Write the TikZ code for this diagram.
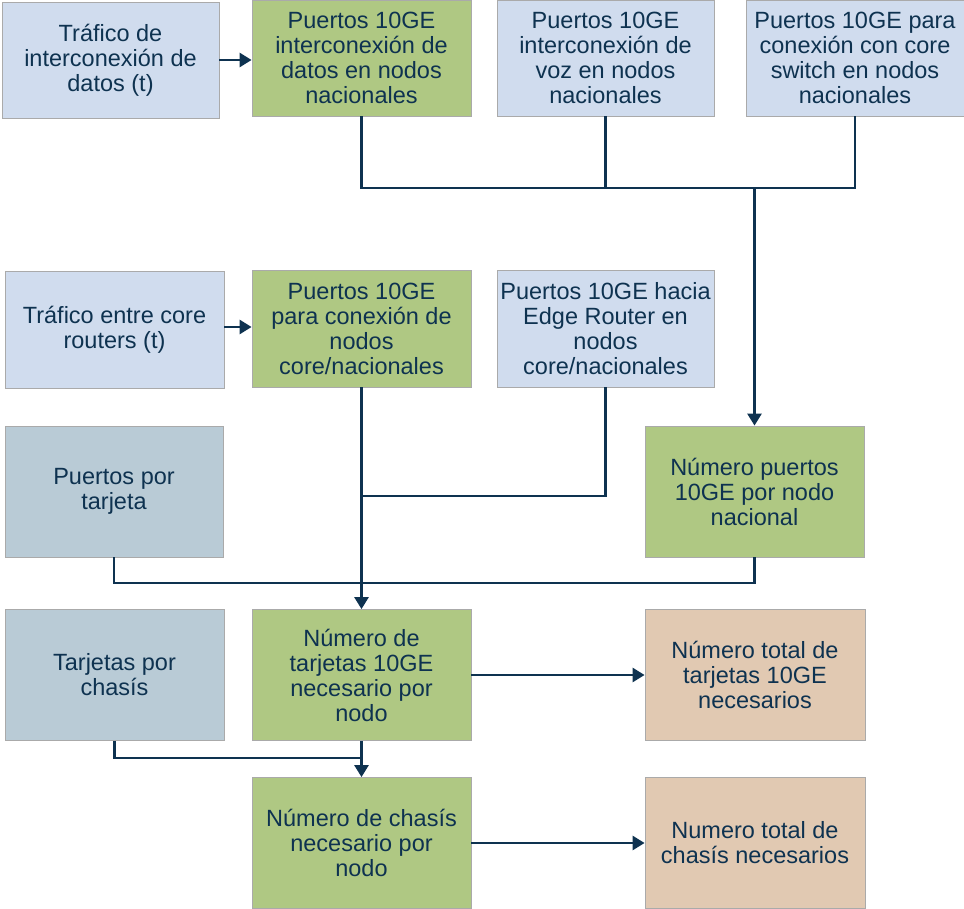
\documentclass[tikz,border=0pt]{standalone}
\usepackage{fontspec}
\setmainfont{Liberation Sans}
\usetikzlibrary{arrows.meta}
\definecolor{lblue}{RGB}{208,220,238}
\definecolor{gblue}{RGB}{185,203,214}
\definecolor{lgreen}{RGB}{175,200,131}
\definecolor{peach}{RGB}{225,201,178}
\definecolor{navy}{RGB}{14,50,80}
\definecolor{bord}{RGB}{170,170,170}
\tikzset{
  box/.style={draw=bord, line width=0.8pt, align=center, text=navy, inner sep=2pt,
    font=\fontsize{23.5}{25}\selectfont, minimum width=218pt, minimum height=116pt},
  tall/.style={minimum height=131pt},
  conn/.style={draw=navy, line width=2.6pt},
  arr/.style={conn, -{Triangle[width=14pt,length=12pt]}}
}
\begin{document}
\begin{tikzpicture}[x=1pt,y=-1pt]
\useasboundingbox (0,0) rectangle (964,909);
% row 1
\node[box, fill=lblue, minimum width=217pt] (A) at (110.5,60) {Tráfico de\\interconexión de\\datos (t)};
\node[box, fill=lgreen, minimum width=219pt] (B) at (361.5,58) {Puertos 10GE\\interconexión de\\datos en nodos\\nacionales};
\node[box, fill=lblue, minimum width=217pt] (C) at (605.5,58) {Puertos 10GE\\interconexión de\\voz en nodos\\nacionales};
\node[box, fill=lblue, minimum width=218pt] (D) at (855,58) {Puertos 10GE para\\conexión con core\\switch en nodos\\nacionales};
% row 2
\node[box, fill=lblue, minimum width=219pt, minimum height=117pt] (E) at (114.5,329.5) {Tráfico entre core\\routers (t)};
\node[box, fill=lgreen, minimum width=219pt, minimum height=117pt] (F) at (361.5,328.5) {Puertos 10GE\\para conexión de\\nodos\\core/nacionales};
\node[box, fill=lblue, minimum width=217pt, minimum height=117pt] (G) at (605.5,328.5) {Puertos 10GE hacia\\Edge Router en\\nodos\\core/nacionales};
% row 3
\node[box, tall, fill=gblue] (H) at (114,491.5) {Puertos por\\tarjeta};
\node[box, tall, fill=lgreen, minimum width=219pt] (I) at (754.5,491.5) {Número puertos\\10GE por nodo\\nacional};
% row 4
\node[box, tall, fill=gblue, minimum width=219pt] (J) at (114.5,675) {Tarjetas por\\chasís};
\node[box, tall, fill=lgreen, minimum width=219pt] (K) at (361.5,675) {Número de\\tarjetas 10GE\\necesario por\\nodo};
\node[box, tall, fill=peach, minimum width=220pt] (L) at (755,675) {Número total de\\tarjetas 10GE\\necesarios};
% row 5
\node[box, tall, fill=lgreen, minimum width=219pt] (M) at (361.5,843) {Número de chasís\\necesario por\\nodo};
\node[box, tall, fill=peach, minimum width=220pt] (N) at (755,843) {Numero total de\\chasís necesarios};
% junctions
\coordinate (j1) at (754.5,188);
\coordinate (j2) at (361.5,496);
\coordinate (j3) at (361.5,583);
\coordinate (j4) at (361.5,758);
% connectors
\draw[arr] (A.east |- 0,60) -- (B.west |- 0,60);
\draw[arr] (E.east |- 0,327) -- (F.west |- 0,327);
\draw[conn] (B.south) |- (D.south |- j1) -- (D.south);
\draw[conn] (C.south) -- (C.south |- j1);
\draw[arr] (j1) -- (I.north);
\draw[arr] (F.south) -- (K.north);
\draw[conn] (G.south) |- (j2);
\draw[conn] (H.south) |- (I.south |- j3) -- (I.south);
\draw[arr] (K.south) -- (M.north);
\draw[conn] (J.south) |- (j4);
\draw[arr] (K.east) -- (L.west);
\draw[arr] (M.east) -- (N.west);
\end{tikzpicture}
\end{document}
